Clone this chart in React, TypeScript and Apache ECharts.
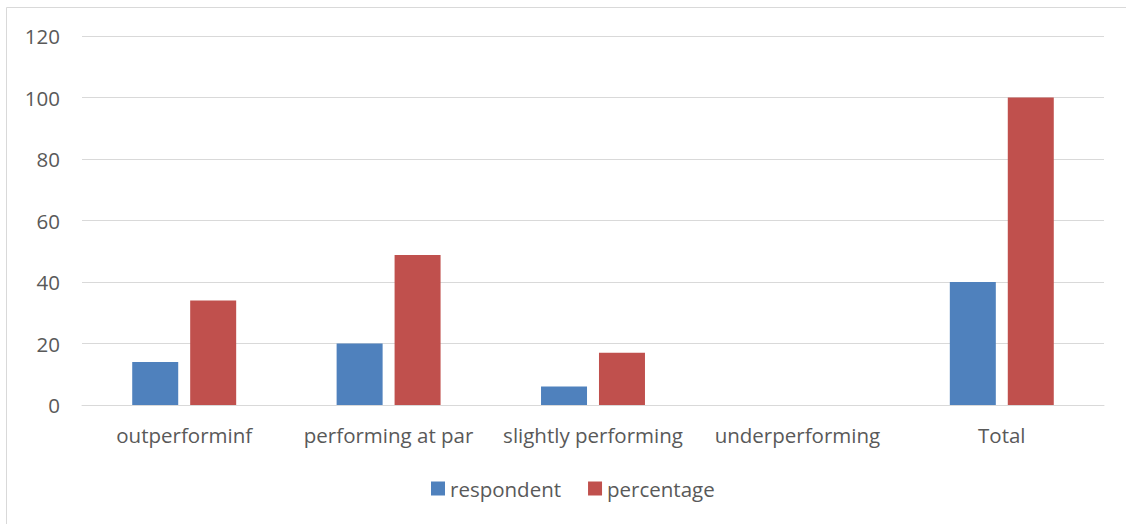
import React, { useEffect, useRef } from "react";
import * as echarts from "echarts";

const categories = ["outperforminf", "performing at par", "slightly performing", "underperforming", "Total"];
const respondent = [14, 20, 6, 0, 40];
const percentage = [34, 48.8, 17, 0, 100];
const seriesNames = ["respondent", "percentage"];

const FONT = "Open Sans";
const TXT = "#595959";

export default function App() {
  const ref = useRef<HTMLDivElement>(null);
  useEffect(() => {
    if (!ref.current) return;
    const chart = echarts.init(ref.current, null, { renderer: "svg" });
    chart.setOption({
      animation: false,
      backgroundColor: "#ffffff",
      textStyle: { fontFamily: FONT },
      graphic: [
        { type: "line", shape: { x1: 6.5, y1: 7.5, x2: 1126, y2: 7.5 }, style: { stroke: "#d9d9d9", lineWidth: 1 } },
        { type: "line", shape: { x1: 6.5, y1: 7.5, x2: 6.5, y2: 524 }, style: { stroke: "#d9d9d9", lineWidth: 1 } },
      ],
      legend: {
        data: seriesNames,
        bottom: 20,
        left: 426,
        itemWidth: 14,
        itemHeight: 14,
        itemGap: 27,
        icon: "rect",
        textStyle: { color: TXT, fontSize: 20.5, fontFamily: FONT },
      },
      grid: { left: 82, right: 22, top: 36, bottom: 119, containLabel: false },
      xAxis: {
        type: "category",
        data: categories,
        axisLine: { show: true, lineStyle: { color: "#d9d9d9", width: 1 } },
        axisTick: { show: false },
        axisLabel: { color: TXT, fontSize: 20.5, fontFamily: FONT, margin: 19, interval: 0 },
      },
      yAxis: {
        type: "value",
        min: 0,
        max: 120,
        interval: 20,
        axisLine: { show: false },
        axisTick: { show: false },
        splitLine: { lineStyle: { color: "#d9d9d9", width: 1 } },
        axisLabel: { color: TXT, fontSize: 20.5, fontFamily: FONT, margin: 22 },
      },
      series: [
        {
          name: seriesNames[0],
          type: "bar",
          data: respondent,
          barWidth: 46,
          barGap: "26%",
          itemStyle: { color: "#4f81bd" },
        },
        {
          name: seriesNames[1],
          type: "bar",
          data: percentage,
          barWidth: 46,
          itemStyle: { color: "#c0504d" },
        },
      ],
    });
    return () => chart.dispose();
  }, []);
  return <div ref={ref} style={{ position: "fixed", left: 0, top: 0, width: 1126, height: 524 }} />;
}
